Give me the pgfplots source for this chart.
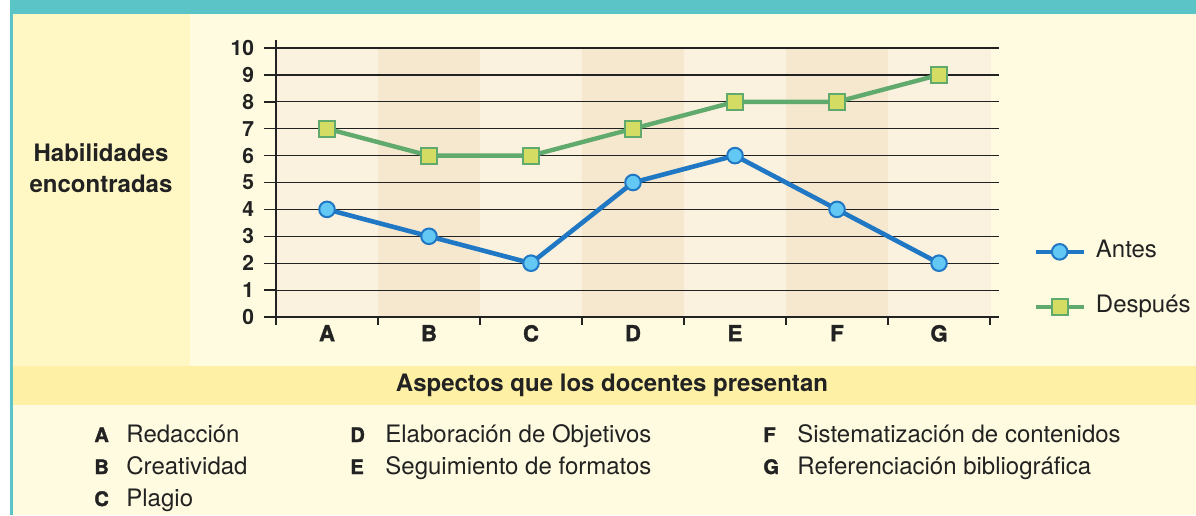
\documentclass[border=0pt]{standalone}
\usepackage{pgfplots}
\pgfplotsset{compat=1.18}
\usepackage{fontspec}
\setmainfont{TeX Gyre Heros}
\newfontfamily\blackfont{TeX Gyre Heros}[BoldFeatures={FakeBold=1.6}]
\definecolor{cTeal}{HTML}{5AC4C7}
\definecolor{cMain}{HTML}{FEFBE0}
\definecolor{cPanel}{HTML}{FFF8C4}
\definecolor{cBand}{HTML}{FEF1A6}
\definecolor{cLight}{HTML}{FAF1DE}
\definecolor{cDark}{HTML}{F6E8CF}
\definecolor{cBlue}{HTML}{2078C4}
\definecolor{cLBlue}{HTML}{64C8F5}
\definecolor{cGreen}{HTML}{60AA6E}
\definecolor{cYG}{HTML}{D4DC64}
\definecolor{cInk}{HTML}{222222}
\begin{document}
\begin{tikzpicture}
\begin{scope}[x=0.5pt,y=-0.5pt]
\useasboundingbox (0,0) rectangle (1196,515);
\fill[white] (0,0) rectangle (1196,515);
\fill[cMain] (10,0) rectangle (1196,515);
\fill[cTeal] (10,0) rectangle (1196,14);
\fill[cTeal] (10,0) rectangle (13,515);
\fill[cPanel] (13,14) rectangle (190,366);
\fill[cBand] (13,366) rectangle (1196,405);
\fill[cLight] (276,48) rectangle (991,317);
\fill[cDark] (378,48) rectangle (480,317);
\fill[cDark] (582,48) rectangle (684,317);
\fill[cDark] (786,48) rectangle (888,317);
\end{scope}
\begin{axis}[
  at={(138pt,-158.5pt)}, anchor=south west,
  scale only axis, width=361.5pt, height=134.5pt,
  xmin=-0.5, xmax=6.588, ymin=0, ymax=10,
  axis line style={draw=none},
  xtick={0,...,6}, xticklabels={A,B,C,D,E,F,G},
  minor xtick={-0.5,0.5,...,6.5},
  ytick={0,...,10},
  tick pos=left,
  tick align=outside,
  major tick length=6pt,
  minor tick length=4pt,
  major x tick style={draw=none},
  tick style={cInk, line width=0.7pt},
  ymajorgrids,
  major grid style={cInk, line width=0.6pt},
  /pgf/number format/assume math mode=true,
  yticklabel style={font=\bfseries\fontsize{10.5}{12}\selectfont, text=cInk, xshift=-1.5pt},
  xticklabel style={font=\blackfont\bfseries\fontsize{11}{13}\selectfont, text=cInk, yshift=5.5pt},
  clip=false,
  legend cell align=left,
  legend image code/.code={\draw[mark repeat=2,mark phase=2] plot coordinates {(0pt,0pt) (12pt,0pt) (24pt,0pt)};},
  legend style={at={(1.047,0.14)}, anchor=west, draw=none, fill=none,
    font=\fontsize{12}{14}\selectfont, text=cInk, row sep=15.5pt, column sep=5pt,
    inner sep=0pt, nodes={inner sep=0pt, text height=9pt, text depth=3pt}},
]
\addplot[cBlue, line width=2.3pt, mark=*, mark size=3.9pt,
  mark options={fill=cLBlue, draw=cBlue, line width=1pt}]
  coordinates {(0,4) (1,3) (2,2) (3,5) (4,6) (5,4) (6,2)};
\addlegendentry{Antes}
\addplot[cGreen, line width=2.2pt, mark=square*, mark size=4pt,
  mark options={fill=cYG, draw=cGreen, line width=1pt}]
  coordinates {(0,7) (1,6) (2,6) (3,7) (4,8) (5,8) (6,9)};
\addlegendentry{Después}
\end{axis}
\begin{scope}[x=0.5pt,y=-0.5pt]
\draw[cInk, line width=1.25pt] (264,317) -- (999,317);
\draw[cInk, line width=1pt] (276,40) -- (276,325);
\node[font=\bfseries\fontsize{12}{15.5}\selectfont, text=cInk, align=center] at (101,168.5) {Habilidades\\encontradas};
\node[font=\bfseries\fontsize{12}{14}\selectfont, text=cInk] at (612,385) {Aspectos que los docentes presentan};
\begin{scope}[every node/.style={anchor=base west, inner sep=0pt, text=cInk}]
\node[font=\blackfont\bfseries\fontsize{10}{11}\selectfont] at (94,442) {A};
\node[font=\blackfont\bfseries\fontsize{10}{11}\selectfont] at (94,474) {B};
\node[font=\blackfont\bfseries\fontsize{10}{11}\selectfont] at (94,506) {C};
\node[font=\blackfont\bfseries\fontsize{10}{11}\selectfont] at (350,442) {D};
\node[font=\blackfont\bfseries\fontsize{10}{11}\selectfont] at (350,474) {E};
\node[font=\blackfont\bfseries\fontsize{10}{11}\selectfont] at (763,442) {F};
\node[font=\blackfont\bfseries\fontsize{10}{11}\selectfont] at (763,474) {G};
\node[font=\fontsize{12}{14}\selectfont] at (126,442) {Redacción};
\node[font=\fontsize{12}{14}\selectfont] at (126,474) {Creatividad};
\node[font=\fontsize{12}{14}\selectfont] at (126,506) {Plagio};
\node[font=\fontsize{12}{14}\selectfont] at (385,442) {Elaboración de Objetivos};
\node[font=\fontsize{12}{14}\selectfont] at (385,474) {Seguimiento de formatos};
\node[font=\fontsize{12}{14}\selectfont] at (797,442) {Sistematización de contenidos};
\node[font=\fontsize{12}{14}\selectfont] at (797,474) {Referenciación bibliográfica};
\end{scope}
\end{scope}
\end{tikzpicture}
\end{document}
